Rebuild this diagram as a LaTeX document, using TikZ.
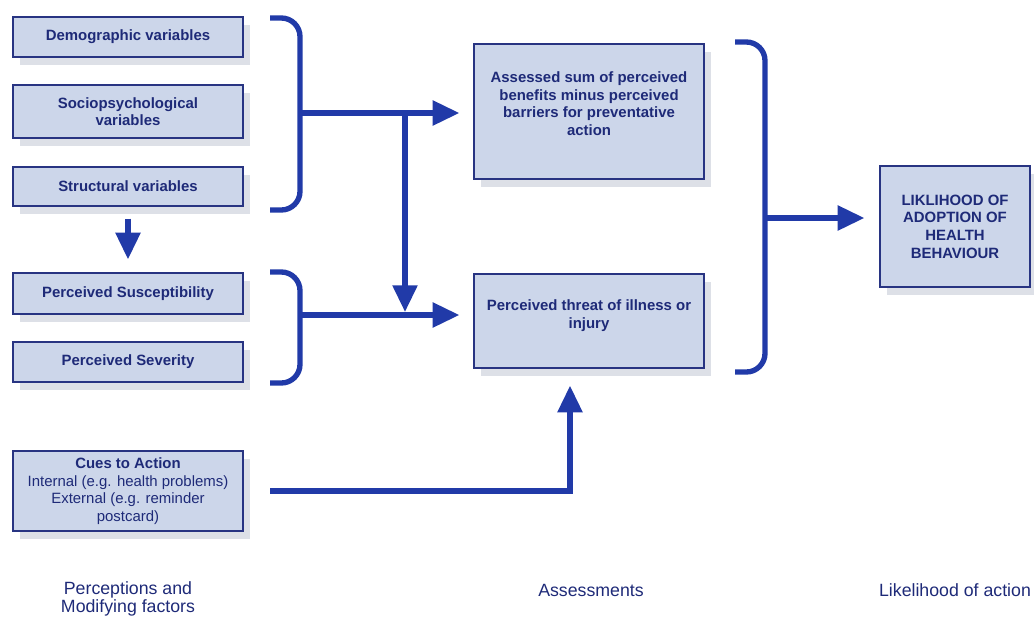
\documentclass[tikz,border=0pt]{standalone}
\usepackage{fontspec}
\setmainfont{Liberation Sans}
\usetikzlibrary{arrows.meta, shadows}

\definecolor{boxfill}{RGB}{204,214,234}
\definecolor{boxline}{RGB}{40,52,130}
\definecolor{boxshade}{RGB}{221,224,231}
\definecolor{textnavy}{RGB}{30,42,120}
\definecolor{arrowblue}{RGB}{33,58,168}

\begin{document}
\begin{tikzpicture}[
        x=0.75pt, y=-0.75pt,
        box/.style={rectangle, draw=boxline, line width=0.9pt, fill=boxfill,
                    drop shadow={shadow xshift=5pt, shadow yshift=-6pt, fill=boxshade, opacity=1},
                    text=textnavy, font=\bfseries\fontsize{11.2}{13.2}\selectfont,
                    align=center, minimum width=172.5pt, inner sep=2pt},
        brace/.style={draw=arrowblue, line width=4pt, rounded corners=14pt},
        arr/.style={draw=arrowblue, line width=4pt, -{Triangle[length=20pt, width=18pt]}},
        caption/.style={text=textnavy, font=\fontsize{13.3}{13.5}\selectfont, align=center},
    ]
        \useasboundingbox (0,0) rectangle (1034,619);

        \node[box, minimum height=30pt]    (demog)  at (128,37)    {Demographic variables};
        \node[box, minimum height=39.75pt] (socio)  at (128,111.5) {Sociopsychological\\variables};
        \node[box, minimum height=29.25pt] (struct) at (128,186.5) {Structural variables};
        \node[box, minimum height=30.75pt] (susc)   at (128,293.5) {Perceived Susceptibility};
        \node[box, minimum height=30pt]    (sever)  at (128,362)   {Perceived Severity};
        \node[box, minimum height=60pt, font=\fontsize{11.2}{13.2}\selectfont] (cues) at (128,491)
            {\textbf{Cues to Action}\\Internal (e.g. health problems)\\External (e.g. reminder\\postcard)};

        \node[box, minimum height=101.25pt, text depth=12pt] (assess) at (589,111.5)
            {Assessed sum of perceived\\benefits minus perceived\\barriers for preventative\\action};
        \node[box, minimum height=70.5pt, text depth=10pt] (threat) at (589,321)
            {Perceived threat of illness or\\injury};

        \node[box, minimum width=112.5pt, minimum height=90.75pt] (likli) at (955,226.5)
            {LIKLIHOOD OF\\ADOPTION OF\\HEALTH\\BEHAVIOUR};

        % brackets
        \draw[brace] (270,18) -- (300,18) -- (300,210) -- (270,210);
        \draw[brace] (270,272) -- (300,272) -- (300,383) -- (270,383);
        \draw[brace] (735,42) -- (765,42) -- (765,372) -- (735,372);

        \coordinate (j1) at (300,113);
        \coordinate (j2) at (405,113);
        \coordinate (j3) at (300,315);
        \coordinate (j4) at (405,315);
        \coordinate (j5) at (765,218);
        \coordinate (c1) at (570,491);

        \draw[arr, shorten >=10.5pt] (j1) -- (assess.west |- j1);
        \draw[arr, shorten >=2.25pt] (j2) -- (j4);
        \draw[arr, shorten >=10.5pt] (j3) -- (threat.west |- j3);
        \draw[arr, shorten <=9pt, shorten >=9.75pt] (struct.south) -- (susc.north);
        \draw[arr, shorten >=12.75pt] ([xshift=20pt]cues.east) -- (c1) -- (c1 |- threat.south);
        \draw[arr, shorten >=11.25pt] (j5) -- (likli.west |- j5);

        \node[caption] (cap1) at (128,599) {Perceptions and\\Modifying factors};
        \node[caption] (cap2) at (591,590) {Assessments};
        \node[caption] (cap3) at (955,590) {Likelihood of action};
    \end{tikzpicture}
\end{document}
